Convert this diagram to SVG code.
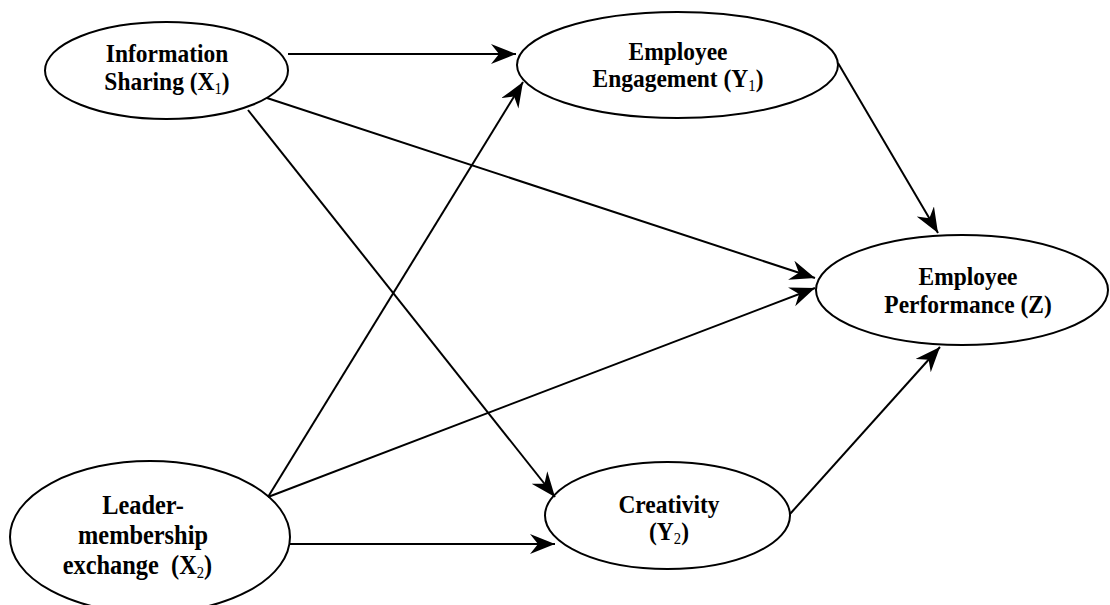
<svg xmlns="http://www.w3.org/2000/svg" width="1110" height="605" viewBox="0 0 1110 605">
<style>
.node ellipse{fill:#fff;stroke:#000;stroke-width:2}
.node text{font-family:"Liberation Serif","Times New Roman",serif;font-weight:bold;font-size:25.5px;fill:#000;text-anchor:middle}
#x2 text{font-size:26.5px}
.sub{font-size:16px;font-weight:normal}
.edge{stroke:#000;stroke-width:2;fill:none;marker-end:url(#arr)}
</style>
<defs>
<marker id="arr" markerUnits="userSpaceOnUse" markerWidth="28" markerHeight="22" refX="25" refY="10" orient="auto">
<path d="M25,10 L0,0 L8,10 L0,20 Z" fill="#000"/>
</marker>
</defs>
<rect width="1110" height="605" fill="#fff"/>
<g id="nodes">
<g id="x1" class="node">
<ellipse cx="166.5" cy="70.5" rx="121.5" ry="48.5"/>
<g transform="translate(167,0) scale(0.92,1)">
<text x="0" y="62">Information</text>
<text x="0" y="90">Sharing (X<tspan class="sub" dy="4">1</tspan><tspan dy="-4">)</tspan></text>
</g>
</g>
<g id="y1" class="node">
<ellipse cx="677.5" cy="65" rx="160.5" ry="53"/>
<g transform="translate(678,0) scale(0.92,1)">
<text x="0" y="60">Employee</text>
<text x="0" y="87">Engagement (Y<tspan class="sub" dy="4">1</tspan><tspan dy="-4">)</tspan></text>
</g>
</g>
<g id="z" class="node">
<ellipse cx="962" cy="290" rx="146" ry="55"/>
<g transform="translate(968,0) scale(0.92,1)">
<text x="0" y="285">Employee</text>
<text x="0" y="313">Performance (Z)</text>
</g>
</g>
<g id="x2" class="node">
<ellipse cx="150" cy="537" rx="140" ry="76"/>
<g transform="translate(143,0) scale(0.92,1)">
<text x="0" y="514">Leader-</text>
<text x="0" y="544">membership</text>
<text x="-6" y="574" xml:space="preserve">exchange  (X<tspan class="sub" dy="4">2</tspan><tspan dy="-4">)</tspan></text>
</g>
</g>
<g id="y2" class="node">
<ellipse cx="667.5" cy="515.5" rx="122.5" ry="53.5"/>
<g transform="translate(669,0) scale(0.92,1)">
<text x="0" y="513">Creativity</text>
<text x="0" y="540">(Y<tspan class="sub" dy="4">2</tspan><tspan dy="-4">)</tspan></text>
</g>
</g>
</g>
<g id="connectors">
<line class="edge" x1="288" y1="54" x2="516" y2="54"/>
<line class="edge" x1="267" y1="98" x2="815" y2="278"/>
<line class="edge" x1="248" y1="110" x2="555" y2="497"/>
<line class="edge" x1="268" y1="497" x2="523" y2="82"/>
<line class="edge" x1="268" y1="497" x2="815" y2="288"/>
<line class="edge" x1="289" y1="544" x2="555" y2="544"/>
<line class="edge" x1="838" y1="63" x2="938" y2="233"/>
<line class="edge" x1="790" y1="514" x2="940" y2="347"/>
</g>
</svg>
